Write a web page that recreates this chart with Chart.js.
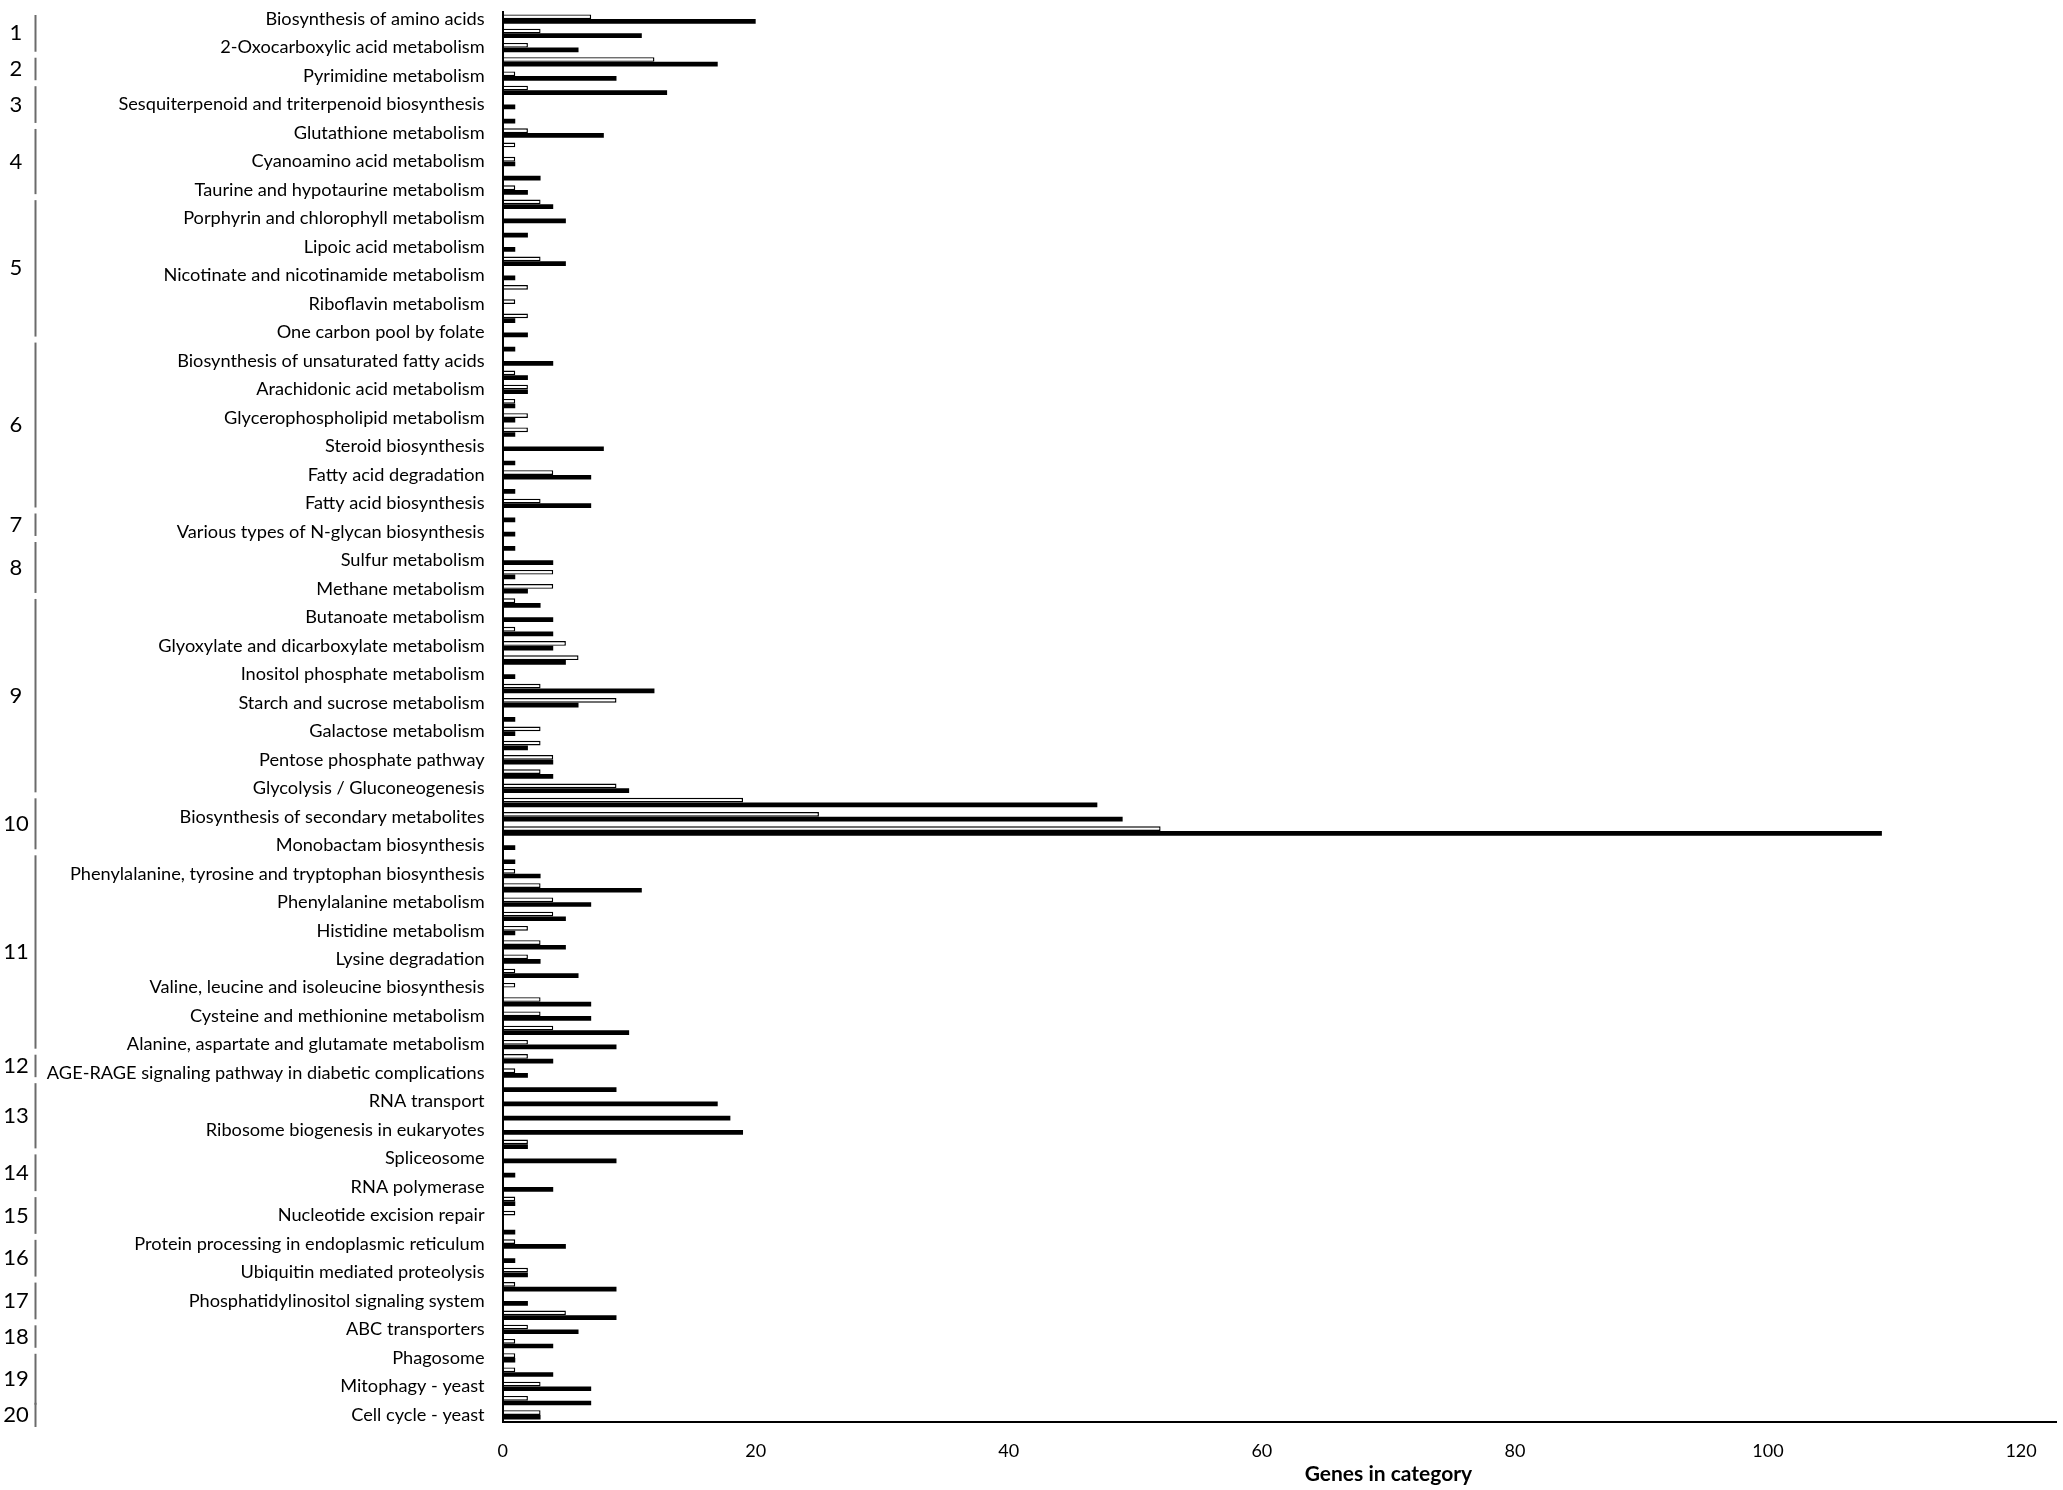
<!DOCTYPE html>
<html><head><meta charset="utf-8">
<script src="https://cdn.jsdelivr.net/npm/chart.js@4.4.1/dist/chart.umd.min.js"></script>
<style>html,body{margin:0;padding:0;background:#fff;}canvas{display:block;}</style>
</head><body>
<canvas id="c" width="2063" height="1490" style="width:2063px;height:1490px"></canvas>
<script>
// Every second category carries a visible label; the ones in between are unlabeled.
const labeledCategories = [
  'Biosynthesis of amino acids','2-Oxocarboxylic acid metabolism','Pyrimidine metabolism',
  'Sesquiterpenoid and triterpenoid biosynthesis','Glutathione metabolism','Cyanoamino acid metabolism',
  'Taurine and hypotaurine metabolism','Porphyrin and chlorophyll metabolism','Lipoic acid metabolism',
  'Nicotinate and nicotinamide metabolism','Riboflavin metabolism','One carbon pool by folate',
  'Biosynthesis of unsaturated fatty acids','Arachidonic acid metabolism','Glycerophospholipid metabolism',
  'Steroid biosynthesis','Fatty acid degradation','Fatty acid biosynthesis',
  'Various types of N-glycan biosynthesis','Sulfur metabolism','Methane metabolism',
  'Butanoate metabolism','Glyoxylate and dicarboxylate metabolism','Inositol phosphate metabolism',
  'Starch and sucrose metabolism','Galactose metabolism','Pentose phosphate pathway',
  'Glycolysis / Gluconeogenesis','Biosynthesis of secondary metabolites','Monobactam biosynthesis',
  'Phenylalanine, tyrosine and tryptophan biosynthesis','Phenylalanine metabolism','Histidine metabolism',
  'Lysine degradation','Valine, leucine and isoleucine biosynthesis','Cysteine and methionine metabolism',
  'Alanine, aspartate and glutamate metabolism','AGE-RAGE signaling pathway in diabetic complications','RNA transport',
  'Ribosome biogenesis in eukaryotes','Spliceosome','RNA polymerase',
  'Nucleotide excision repair','Protein processing in endoplasmic reticulum','Ubiquitin mediated proteolysis',
  'Phosphatidylinositol signaling system','ABC transporters','Phagosome',
  'Mitophagy - yeast','Cell cycle - yeast'
];

const seriesWhite = [
  7,3,2,12,1,2,0,0,2,1,
  1,0,1,3,0,0,0,3,0,2,
  1,2,0,0,0,1,2,1,2,2,
  0,0,4,0,3,0,0,0,0,4,
  4,1,0,1,5,6,0,3,9,0,
  3,3,4,3,9,19,25,52,0,0,
  1,3,4,4,2,3,2,1,1,3,
  3,4,2,2,1,0,0,0,0,2,
  0,0,0,1,1,0,1,0,2,1,
  0,5,2,1,1,1,3,2,3
];
const seriesBlack = [
  20,11,6,17,9,13,1,1,8,0,
  1,3,2,4,5,2,1,5,1,0,
  0,1,2,1,4,2,2,1,1,1,
  8,1,7,1,7,1,1,1,4,1,
  2,3,4,4,4,5,1,12,6,1,
  1,2,4,4,10,47,49,109,1,1,
  3,11,7,5,1,5,3,6,0,7,
  7,10,9,4,2,9,17,18,19,2,
  9,1,4,1,0,1,5,1,2,9,
  2,9,6,4,1,4,7,7,3
];
const xTickValues = [0,20,40,60,80,100,120];
const axisTitle = 'Genes in category';

// Group brackets on the left: number, first and last category index
const groupNumbers = ['1','2','3','4','5','6','7','8','9','10','11','12','13','14','15','16','17','18','19','20'];
const groupFirst   = [0,3,5,8,13,23,35,37,41,55,59,73,75,80,83,86,89,92,94,98];
const groupLast    = [2,4,7,12,22,34,36,40,54,58,72,74,79,82,85,88,91,93,97,98];

// Full category list (labels at even positions)
const categories = [];
labeledCategories.forEach((name, i) => {
  categories.push(name);
  if (i < labeledCategories.length - 1) categories.push('');
});

const FONT = 'Lato';
// fit label font to the reference width of the longest label
const mctx = document.createElement('canvas').getContext('2d');
mctx.font = '100px ' + FONT;
const longest = 'AGE-RAGE signaling pathway in diabetic complications';
const labelSize = Math.round(100 * 437 / mctx.measureText(longest).width * 10) / 10;

const groupPlugin = {
  id: 'groups',
  afterDraw(chart) {
    const ctx = chart.ctx;
    const y = chart.scales.y;
    const band = y.getPixelForValue(1) - y.getPixelForValue(0);
    ctx.save();
    ctx.strokeStyle = '#6b6b6b';
    ctx.lineWidth = 2;
    ctx.fillStyle = '#000';
    ctx.font = '22px ' + FONT;
    ctx.textAlign = 'center';
    ctx.textBaseline = 'middle';
    groupNumbers.forEach((g, i) => {
      const single = groupFirst[i] === groupLast[i];
      const ext = single ? band * 0.35 : -3;
      const top = y.getPixelForValue(groupFirst[i]) - band / 2 - ext;
      const bot = y.getPixelForValue(groupLast[i]) + band / 2 + ext;
      ctx.beginPath();
      ctx.moveTo(35.5, top);
      ctx.lineTo(35.5, bot);
      ctx.stroke();
      ctx.fillText(g, 16, (top + bot) / 2);
    });
    // axis title
    ctx.font = 'bold 21px ' + FONT;
    ctx.fillText(axisTitle, chart.width * 0.673, 1474);
    ctx.restore();
  }
};

new Chart(document.getElementById('c'), {
  type: 'bar',
  data: {
    labels: categories,
    datasets: [
      { label: 'A', data: seriesWhite, backgroundColor: '#ffffff', borderColor: '#000000',
        borderWidth: 1.4, borderSkipped: false, categoryPercentage: 0.66, barPercentage: 1.0 },
      { label: 'B', data: seriesBlack, backgroundColor: '#000000', borderColor: '#000000',
        borderWidth: 0, categoryPercentage: 0.66, barPercentage: 1.0 }
    ]
  },
  options: {
    indexAxis: 'y',
    responsive: false,
    animation: false,
    devicePixelRatio: 1,
    layout: { padding: { top: 12, right: 6.5, left: 0, bottom: 0 } },
    plugins: { legend: { display: false }, tooltip: { enabled: false } },
    scales: {
      x: {
        min: 0, max: 122.8,
        grid: { display: false, drawTicks: false },
        border: { display: true, color: '#000', width: 2 },
        afterBuildTicks(s) { s.ticks = xTickValues.map(v => ({ value: v })); },
        ticks: { font: { family: FONT, size: 18 }, color: '#000', padding: 18, maxRotation: 0 },
        afterFit(s) { s.height = 68; s.paddingLeft = 0; s.paddingRight = 0; }
      },
      y: {
        grid: { display: false, drawTicks: false },
        border: { display: true, color: '#000', width: 2 },
        ticks: { autoSkip: false, font: { family: FONT, size: labelSize }, color: '#000', padding: 18 },
        afterFit(s) { s.width = 502.6; s.paddingTop = 0; s.paddingBottom = 0; }
      }
    }
  },
  plugins: [groupPlugin]
});
</script>
</body></html>
